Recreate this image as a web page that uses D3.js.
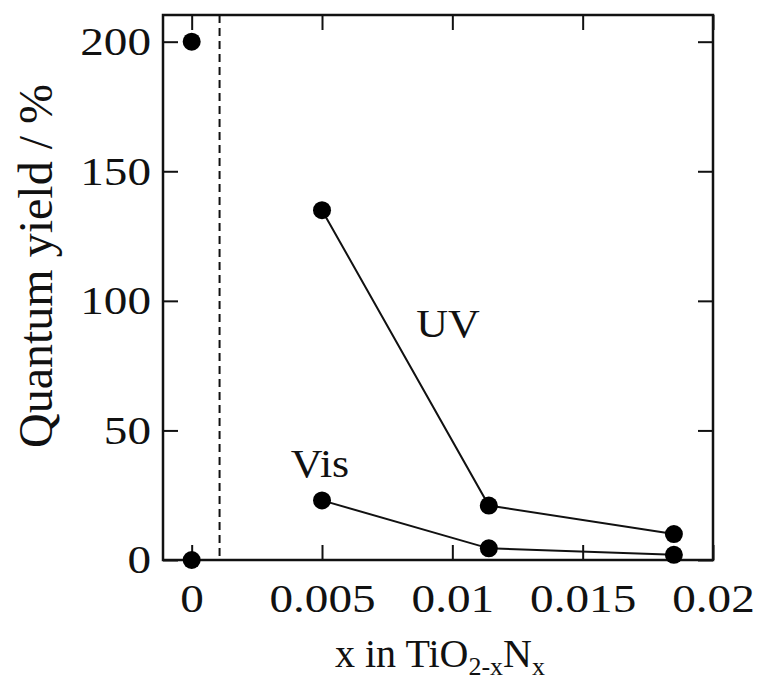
<!DOCTYPE html>
<html>
<head>
<meta charset="utf-8">
<script src="https://cdn.jsdelivr.net/npm/d3@7"></script>
<style>
  body { margin: 0; background: #fff; }
  text { font-family: "Liberation Serif", "Times New Roman", serif; fill: #111; }
</style>
</head>
<body>
<svg></svg>
<script>
const width = 762;
const height = 685;
const margin = { top: 15, right: 49, bottom: 125, left: 163 };

// données
const xUV = [0.005, 0.0114, 0.0185];
const yUV = [135, 21, 10];
const xVis = [0.005, 0.0114, 0.0185];
const yVis = [23, 4.5, 2];
// points à x = 0 (non reliés)
const xZero = [0, 0];
const yZero = [200, 0];
const xDashed = 0.00107;

const xTicks = [0, 0.005, 0.01, 0.015, 0.02];
const yTicks = [0, 50, 100, 150, 200];

const svg = d3.select("svg")
  .attr("width", width)
  .attr("height", height);

const x = d3.scaleLinear()
  .domain([-0.0011, 0.02])
  .range([margin.left, width - margin.right]);

const y = d3.scaleLinear()
  .domain([0, 210.3])
  .range([height - margin.bottom, margin.top]);

const fmt = d => d === 0 ? "0" : String(d);

// axes (ticks vers l'intérieur)
svg.append("g")
  .attr("transform", `translate(0,${height - margin.bottom})`)
  .call(d3.axisBottom(x).tickValues(xTicks).tickFormat(fmt).tickSize(-15).tickPadding(24));

svg.append("g")
  .attr("transform", `translate(0,${margin.top})`)
  .call(d3.axisTop(x).tickValues(xTicks).tickSize(-15).tickFormat(""));

svg.append("g")
  .attr("transform", `translate(${margin.left},0)`)
  .call(d3.axisLeft(y).tickValues(yTicks).tickSize(-15).tickPadding(12));

svg.append("g")
  .attr("transform", `translate(${width - margin.right},0)`)
  .call(d3.axisRight(y).tickValues(yTicks).tickSize(-15).tickFormat(""));

svg.selectAll(".domain").remove();
svg.selectAll(".tick line").attr("stroke", "#111").attr("stroke-width", 2);

// texte des graduations un peu étiré horizontalement
svg.selectAll(".tick text")
  .attr("font-size", 40)
  .attr("fill", "#111")
  .each(function() {
    const t = d3.select(this);
    const tx = +t.attr("x") || 0;
    const ty = +t.attr("y") || 0;
    t.attr("x", 0).attr("y", 0)
      .attr("transform", `translate(${tx},${ty}) scale(1.18,1)`);
  });

// cadre
svg.append("rect")
  .attr("x", margin.left)
  .attr("y", margin.top)
  .attr("width", width - margin.left - margin.right)
  .attr("height", height - margin.top - margin.bottom)
  .attr("fill", "none")
  .attr("stroke", "#111")
  .attr("stroke-width", 2.5);

// ligne pointillée
svg.append("line")
  .attr("x1", x(xDashed)).attr("x2", x(xDashed))
  .attr("y1", margin.top).attr("y2", height - margin.bottom)
  .attr("stroke", "#111")
  .attr("stroke-width", 2)
  .attr("stroke-dasharray", "8,5");

const line = d3.line().x(d => x(d[0])).y(d => y(d[1]));
const uv = d3.zip(xUV, yUV);
const vis = d3.zip(xVis, yVis);
const zero = d3.zip(xZero, yZero);

[uv, vis].forEach(s => {
  svg.append("path")
    .datum(s)
    .attr("d", line)
    .attr("fill", "none")
    .attr("stroke", "#111")
    .attr("stroke-width", 2);
});

svg.selectAll("circle.pt")
  .data(uv.concat(vis, zero))
  .enter()
  .append("circle")
  .attr("class", "pt")
  .attr("cx", d => x(d[0]))
  .attr("cy", d => y(d[1]))
  .attr("r", 9)
  .attr("fill", "#000");

// étiquettes des séries
svg.append("text")
  .attr("transform", "translate(448,337) scale(1.1,1)")
  .attr("text-anchor", "middle")
  .attr("font-size", 40)
  .text("UV");

svg.append("text")
  .attr("transform", "translate(320,477) scale(1.1,1)")
  .attr("text-anchor", "middle")
  .attr("font-size", 40)
  .text("Vis");

// titre axe x
const xt = svg.append("text")
  .attr("x", 440).attr("y", 667)
  .attr("text-anchor", "middle")
  .attr("font-size", 40);
xt.append("tspan").text("x in TiO");
xt.append("tspan").attr("font-size", 26).attr("dy", 8).text("2-x");
xt.append("tspan").attr("dy", -8).text("N");
xt.append("tspan").attr("font-size", 26).attr("dy", 8).text("x");

// titre axe y
svg.append("text")
  .attr("transform", "translate(52,266) rotate(-90)")
  .attr("text-anchor", "middle")
  .attr("font-size", 48)
  .text("Quantum yield / %");
</script>
</body>
</html>
